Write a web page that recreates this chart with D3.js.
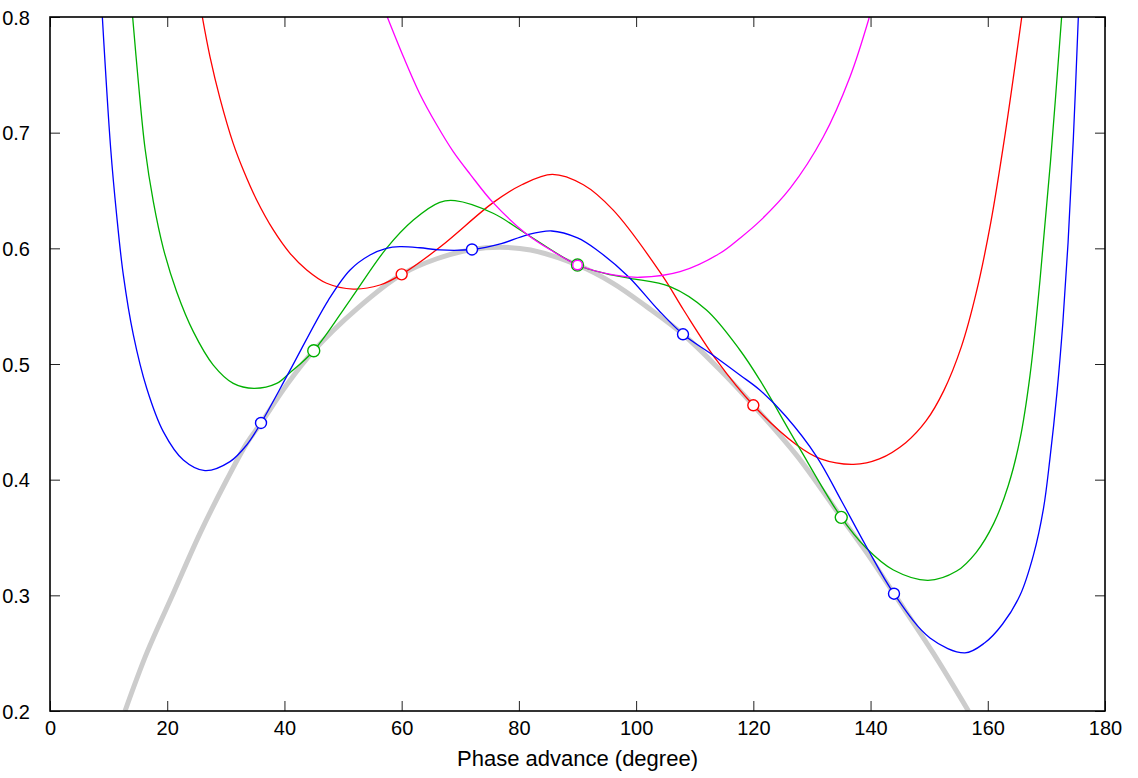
<!DOCTYPE html>
<html>
<head>
<meta charset="utf-8">
<script src="https://cdn.jsdelivr.net/npm/d3@7"></script>
<style>
  body { margin: 0; background: #fff; }
  text { font-family: "Liberation Sans", Arial, Helvetica, sans-serif; }
</style>
</head>
<body>
<div id="chart"></div>
<script>
// curve samples: [phase advance (deg), value]
const grayCurve = [[12.8,0.2],[16.5,0.25],[21.04,0.3018],[25.59,0.3536],[30.14,0.3997],[33.56,0.4314],[36,0.449],
  [40.4,0.482],[45,0.5115],[52.3,0.5475],[60,0.5775],[66,0.591],[72,0.599],[76.8,0.601],[82,0.5985],[90,0.5856],
  [96,0.570],[101.8,0.5496],[108,0.5257],[114,0.4965],[120,0.4643],[127.4,0.421],[135,0.3674],[140,0.332],
  [144,0.3014],[150.7,0.25],[156.7,0.2]];

const redCurve = [[25.99,0.80],[27.3,0.7655],[29.0,0.7297],[31.27,0.6905],[32.98,0.6677],[35.26,0.6418],
  [38.1,0.6159],[40.95,0.5957],[43.8,0.5813],[47.2,0.5698],[51.75,0.5648],[56.3,0.5683],[60,0.5775],
  [66.5,0.6009],[75.6,0.6395],[80.5,0.655],[85.7,0.664],[91,0.655],[96.1,0.633],[104.4,0.577],[108.1,0.5467],
  [113.7,0.5035],[120,0.4643],[127.4,0.43],[131.5,0.418],[137.1,0.4133],[141.5,0.418],[146,0.432],[149.5,0.451],
  [152.5,0.477],[155.5,0.515],[158,0.561],[160.5,0.622],[163,0.700],[165.8,0.80]];

const greenCurve = [[14.1,0.80],[15.07,0.744],[16.21,0.6865],[17.63,0.6403],[19.33,0.600],[21.61,0.5625],
  [24.45,0.528],[27.86,0.4991],[31.27,0.4833],[34.8,0.479],[38.68,0.4833],[40.83,0.492],[45,0.5115],[51.2,0.5553],
  [57.4,0.600],[62.0,0.6245],[66.5,0.6398],[69.1,0.6412],[75.6,0.6303],[81.3,0.6124],[90,0.5856],[95,0.578],
  [99.0,0.5741],[105.8,0.5669],[112.0,0.5467],[117.7,0.5121],[121.1,0.4862],[127.4,0.4314],[135,0.3674],
  [139.3,0.3407],[143.9,0.3219],[149.8,0.313],[154.7,0.321],[158,0.337],[161,0.362],[163.5,0.395],[165.5,0.435],
  [167.2,0.49],[168.9,0.572],[170.7,0.675],[172.6,0.80]];

const blueCurve = [[8.93,0.80],[10.35,0.6865],[11.37,0.6288],[12.51,0.577],[14.22,0.5251],[16.5,0.479],
  [19.33,0.4415],[22.75,0.417],[26.45,0.4078],[30.71,0.4156],[33.56,0.43],[36,0.449],[40.83,0.4934],[47.5,0.5553],
  [51.2,0.5813],[54.6,0.5942],[57.4,0.600],[59.7,0.6014],[63.1,0.6005],[66.5,0.5986],[72,0.599],[77,0.604],
  [81.3,0.6115],[85.6,0.615],[90,0.609],[93.3,0.5986],[98.7,0.5755],[103.8,0.5467],[108,0.5257],[113,0.508],
  [117.7,0.4905],[121.1,0.4775],[125.5,0.455],[130.8,0.42],[135,0.382],[139.3,0.342],[144,0.3014],[150.14,0.2632],
  [156.1,0.2503],[159.5,0.259],[162.5,0.275],[165.5,0.300],[167.8,0.335],[169.5,0.375],[170.6,0.418],
  [171.8,0.475],[172.8,0.535],[173.7,0.605],[174.6,0.695],[175.45,0.80]];

const magentaCurve = [[57.55,0.80],[60.3,0.7656],[63.1,0.7335],[66.0,0.7066],[68.8,0.6836],[71.7,0.664],
  [75.6,0.6395],[81.3,0.6124],[85.9,0.5971],[90,0.5856],[96.1,0.577],[100.7,0.575],[107.5,0.5798],[114.3,0.5957],
  [117.7,0.6087],[121.1,0.6235],[126.3,0.652],[131.9,0.696],[136.5,0.7484],[139.8,0.80]];

// sample points (open circles)
const redPoints = [[60,0.5775],[120,0.4643]];
const greenPoints = [[45,0.5115],[90,0.5856],[135,0.3674]];
const bluePoints = [[36,0.449],[72,0.599],[108,0.5257],[144,0.3014]];
const magentaPoints = [[90,0.5856]];

const xTicks = [0,20,40,60,80,100,120,140,160,180];
const yTicks = [0.2,0.3,0.4,0.5,0.6,0.7,0.8];

const width = 1138, height = 778;
const margin = { top: 17, right: 33, bottom: 67, left: 50 };
const iw = width - margin.left - margin.right;
const ih = height - margin.top - margin.bottom;

const svg = d3.select("#chart").append("svg")
    .attr("width", width)
    .attr("height", height);

const g = svg.append("g")
    .attr("transform", `translate(${margin.left},${margin.top})`);

const x = d3.scaleLinear().domain([0, 180]).range([0, iw]);
const y = d3.scaleLinear().domain([0.2, 0.8]).range([ih, 0]);

svg.append("defs").append("clipPath")
    .attr("id", "plot-clip")
    .append("rect")
    .attr("width", iw)
    .attr("height", ih);

const line = d3.line()
    .x(d => x(d[0]))
    .y(d => y(d[1]))
    .curve(d3.curveCatmullRom.alpha(0.5));

const plot = g.append("g").attr("clip-path", "url(#plot-clip)");

plot.append("path")
    .datum(grayCurve)
    .attr("fill", "none")
    .attr("stroke", "#cccccc")
    .attr("stroke-width", 5)
    .attr("d", line);

const series = [
    { curve: redCurve, pts: redPoints, color: "#ff0000", r: 5.5 },
    { curve: greenCurve, pts: greenPoints, color: "#00b000", r: 6 },
    { curve: blueCurve, pts: bluePoints, color: "#0000ff", r: 5.5 },
    { curve: magentaCurve, pts: magentaPoints, color: "#ff00ff", r: 4.8 }
];

series.forEach(s => {
    plot.append("path")
        .datum(s.curve)
        .attr("fill", "none")
        .attr("stroke", s.color)
        .attr("stroke-width", 1.3)
        .attr("d", line);
});

series.forEach(s => {
    g.selectAll(null)
        .data(s.pts)
        .enter().append("circle")
        .attr("cx", d => x(d[0]))
        .attr("cy", d => y(d[1]))
        .attr("r", s.r)
        .attr("fill", "white")
        .attr("stroke", s.color)
        .attr("stroke-width", 1.4);
});

// axes: ticks point inward on all four sides
const tickLen = 10;
const bottomAxis = g.append("g")
    .attr("transform", `translate(0,${ih})`)
    .call(d3.axisBottom(x).tickValues(xTicks).tickSize(-tickLen).tickPadding(10).tickFormat(d3.format("d")));
const topAxis = g.append("g")
    .call(d3.axisTop(x).tickValues(xTicks).tickSize(-tickLen).tickFormat(""));
const leftAxis = g.append("g")
    .call(d3.axisLeft(y).tickValues(yTicks).tickSize(-tickLen).tickPadding(20).tickFormat(d3.format(".1f")));
const rightAxis = g.append("g")
    .attr("transform", `translate(${iw},0)`)
    .call(d3.axisRight(y).tickValues(yTicks).tickSize(-tickLen).tickFormat(""));

[bottomAxis, topAxis, leftAxis, rightAxis].forEach(a => {
    a.select(".domain").remove();
    a.selectAll(".tick line").attr("stroke", "#222").attr("stroke-width", 1);
    a.selectAll("text")
        .attr("fill", "#000")
        .style("font-size", "20px")
        .style("font-family", "'Liberation Sans', Arial, sans-serif");
});
leftAxis.selectAll("text").attr("dy", "0.36em");

g.append("rect")
    .attr("width", iw)
    .attr("height", ih)
    .attr("fill", "none")
    .attr("stroke", "#000")
    .attr("stroke-width", 1.6);

g.append("text")
    .attr("x", iw / 2)
    .attr("y", ih + 55)
    .attr("text-anchor", "middle")
    .style("font-size", "22px")
    .text("Phase advance (degree)");
</script>
</body>
</html>
